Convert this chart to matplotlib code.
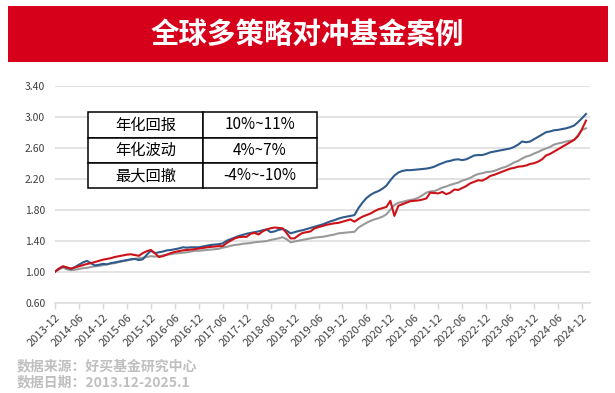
import matplotlib
matplotlib.use("Agg")
import matplotlib.pyplot as plt
from matplotlib.patches import Rectangle
import numpy as np

plt.rcParams['font.family'] = ['Noto Sans CJK SC', 'DejaVu Sans']

# monthly values, 2013-12 .. 2025-01
blue = [1.00, 1.04, 1.065, 1.05, 1.035, 1.06, 1.09, 1.12, 1.14, 1.11, 1.08, 1.09,
        1.10, 1.095, 1.11, 1.12, 1.13, 1.14, 1.15, 1.16, 1.165, 1.15, 1.16, 1.22,
        1.27, 1.24, 1.25, 1.26, 1.275, 1.28, 1.29, 1.30, 1.315, 1.31, 1.315, 1.315,
        1.315, 1.325, 1.335, 1.345, 1.35, 1.355, 1.365, 1.40, 1.42, 1.44, 1.46, 1.475,
        1.49, 1.50, 1.51, 1.52, 1.535, 1.545, 1.51, 1.52, 1.54, 1.55, 1.53, 1.495,
        1.51, 1.525, 1.535, 1.55, 1.565, 1.58, 1.595, 1.61, 1.63, 1.65, 1.665, 1.685,
        1.70, 1.71, 1.72, 1.73, 1.82, 1.89, 1.95, 1.99, 2.02, 2.04, 2.07, 2.11,
        2.18, 2.24, 2.28, 2.30, 2.31, 2.31, 2.315, 2.32, 2.325, 2.33, 2.34, 2.355,
        2.38, 2.40, 2.42, 2.43, 2.445, 2.45, 2.44, 2.45, 2.475, 2.50, 2.505, 2.505,
        2.52, 2.54, 2.55, 2.56, 2.57, 2.58, 2.59, 2.61, 2.64, 2.68, 2.67, 2.68,
        2.71, 2.74, 2.77, 2.80, 2.81, 2.825, 2.83, 2.84, 2.85, 2.865, 2.885, 2.93,
        2.98, 3.035]

red = [1.00, 1.04, 1.07, 1.055, 1.04, 1.055, 1.07, 1.085, 1.10, 1.11, 1.125, 1.14,
       1.155, 1.165, 1.175, 1.19, 1.20, 1.21, 1.22, 1.225, 1.215, 1.205, 1.24, 1.265,
       1.28, 1.24, 1.19, 1.20, 1.22, 1.24, 1.255, 1.265, 1.275, 1.28, 1.285, 1.29,
       1.30, 1.305, 1.315, 1.32, 1.325, 1.33, 1.33, 1.37, 1.40, 1.43, 1.445, 1.45,
       1.45, 1.49, 1.50, 1.48, 1.52, 1.545, 1.56, 1.57, 1.565, 1.56, 1.50, 1.43,
       1.43, 1.47, 1.50, 1.51, 1.52, 1.56, 1.575, 1.59, 1.605, 1.615, 1.625, 1.63,
       1.645, 1.66, 1.675, 1.645, 1.68, 1.71, 1.73, 1.75, 1.78, 1.805, 1.82, 1.835,
       1.915, 1.72, 1.85, 1.87, 1.89, 1.91, 1.915, 1.92, 1.93, 1.945, 2.02, 2.015,
       2.01, 2.03, 2.00, 2.02, 2.06, 2.055, 2.08, 2.105, 2.14, 2.16, 2.18, 2.175,
       2.20, 2.235, 2.25, 2.27, 2.29, 2.31, 2.33, 2.34, 2.355, 2.36, 2.37, 2.39,
       2.40, 2.42, 2.45, 2.50, 2.52, 2.55, 2.58, 2.61, 2.64, 2.67, 2.70, 2.75,
       2.84, 2.95]

gray = [1.00, 1.03, 1.055, 1.03, 1.02, 1.025, 1.035, 1.045, 1.05, 1.06, 1.07, 1.075,
        1.085, 1.095, 1.105, 1.11, 1.125, 1.135, 1.145, 1.155, 1.165, 1.175, 1.18, 1.19,
        1.20, 1.195, 1.20, 1.21, 1.22, 1.225, 1.235, 1.24, 1.245, 1.25, 1.26, 1.27,
        1.27, 1.275, 1.28, 1.285, 1.29, 1.295, 1.31, 1.32, 1.335, 1.345, 1.35, 1.36,
        1.365, 1.37, 1.38, 1.385, 1.39, 1.395, 1.41, 1.42, 1.43, 1.445, 1.42, 1.38,
        1.39, 1.40, 1.41, 1.42, 1.43, 1.44, 1.445, 1.45, 1.46, 1.47, 1.48, 1.495,
        1.50, 1.505, 1.51, 1.515, 1.57, 1.60, 1.63, 1.655, 1.675, 1.69, 1.71, 1.74,
        1.80, 1.86, 1.89, 1.90, 1.915, 1.925, 1.935, 1.955, 1.985, 2.02, 2.035, 2.04,
        2.06, 2.085, 2.10, 2.12, 2.135, 2.15, 2.175, 2.19, 2.21, 2.24, 2.26, 2.27,
        2.285, 2.29, 2.30, 2.32, 2.34, 2.355, 2.38, 2.41, 2.43, 2.46, 2.485, 2.50,
        2.525, 2.545, 2.57, 2.59, 2.61, 2.64, 2.655, 2.665, 2.68, 2.69, 2.70, 2.76,
        2.83, 2.85]

tick_labels = ['2013-12', '2014-06', '2014-12', '2015-06', '2015-12', '2016-06',
               '2016-12', '2017-06', '2017-12', '2018-06', '2018-12', '2019-06',
               '2019-12', '2020-06', '2020-12', '2021-06', '2021-12', '2022-06',
               '2022-12', '2023-06', '2023-12', '2024-06', '2024-12']

table_rows = [['年化回报', '10%~11%'],
              ['年化波动', '4%~7%'],
              ['最大回撤', '-4%~-10%']]

fig = plt.figure(figsize=(6.15, 3.93), dpi=100)

# red title banner
fig.add_artist(Rectangle((8 / 615, 1 - 62 / 393), 600 / 615, 56 / 393,
                         transform=fig.transFigure, color='#d7001a', lw=0))
fig.text(0.5, 1 - 35 / 393, '全球多策略对冲基金案例', color='white',
         fontsize=20.5, fontweight='bold', ha='center', va='center')

ax = fig.add_axes([55 / 615, 1 - 302.7 / 393, 535 / 615, 217 / 393])
t = np.arange(len(blue))
ax.plot(t, gray, color='#999999', lw=1.5, zorder=3)
ax.plot(t, blue, color='#2f5b8c', lw=1.5, zorder=4)
ax.plot(t, red, color='#cc1219', lw=1.5, zorder=5)

ax.set_xlim(0, 134)
ax.set_ylim(0.6, 3.4)
ax.set_yticks(np.arange(0.6, 3.41, 0.4))
ax.set_yticklabels([f'{v:.2f}' for v in np.arange(0.6, 3.41, 0.4)],
                   fontsize=7.5, color='#404040')
ax.set_xticks(np.arange(0, 133, 6))
ax.set_xticklabels(tick_labels, rotation=45, ha='right', va='top',
                   rotation_mode='anchor', fontsize=8, color='#404040')
ax.tick_params(axis='y', length=0, pad=7)
ax.tick_params(axis='x', length=4, color='#d9d9d9', width=1, pad=3)
ax.grid(axis='y', color='#dedede', lw=1.2)
ax.set_axisbelow(True)
for s in ['top', 'right', 'left']:
    ax.spines[s].set_visible(False)
ax.spines['bottom'].set_color('#dedede')
ax.spines['bottom'].set_linewidth(1.2)

tb = ax.table(cellText=table_rows, cellLoc='center',
              bbox=[(88.3 - 55) / 535, (302.7 - 188.3) / 217,
                    229 / 535, 76 / 217], zorder=6)
tb.auto_set_font_size(False)
tb.set_fontsize(11)
for cell in tb.get_celld().values():
    cell.set_linewidth(1.1)
    cell.set_edgecolor('black')
    cell.set_facecolor('white')

fig.text(17 / 615, 1 - 366 / 393, '数据来源：好买基金研究中心', color='#bfbfbf',
         fontsize=10, fontweight='bold', ha='left', va='center')
fig.text(17 / 615, 1 - 382 / 393, '数据日期：2013.12-2025.1', color='#bfbfbf',
         fontsize=10, fontweight='bold', ha='left', va='center')

fig.savefig('out.png', dpi=100)
